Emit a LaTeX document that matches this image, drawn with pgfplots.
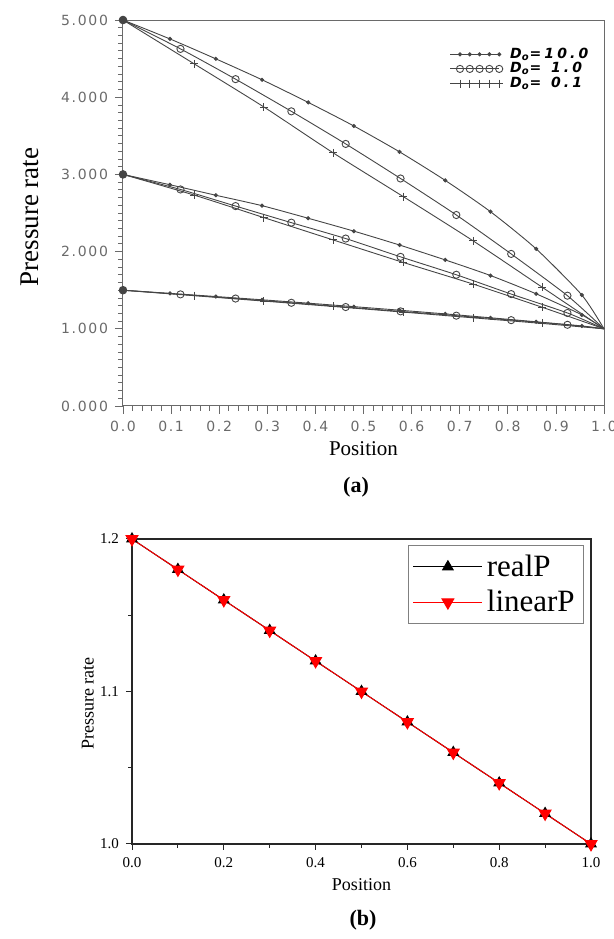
\documentclass[border=0pt]{standalone}
\usepackage{fontspec}
\setmainfont{Liberation Serif}
\newfontfamily\plotfont[LetterSpace=12]{DejaVu Sans}
\newfontfamily\legfont[LetterSpace=22]{DejaVu Sans}
\usepackage{pgfplots}
\pgfplotsset{compat=1.18}
\definecolor{plotgray}{HTML}{454545}
\definecolor{axgray}{HTML}{6A6A6A}
\begin{document}
\begin{tikzpicture}
\path[use as bounding box] (0,0) rectangle (307pt,469.5pt);
% ---------------- panel (a) ----------------
\begin{axis}[
  at={(61.5pt,266.5pt)}, anchor=south west, scale only axis,
  width=240.5pt, height=193pt,
  xmin=0, xmax=1, ymin=0, ymax=5,
  xtick={0,0.1,0.2,0.3,0.4,0.5,0.6,0.7,0.8,0.9,1.0}, minor x tick num=4,
  ytick={0,1,2,3,4,5}, minor y tick num=9,
  xtick pos=bottom, ytick pos=left, tick align=outside,
  major tick length=4pt, minor tick length=2.5pt,
  axis line style={axgray, line width=0.5pt},
  every tick/.style={axgray, line width=0.4pt},
  tick label style={font=\plotfont\fontsize{7}{8}\selectfont, text=axgray},
  /pgf/number format/assume math mode=true,
  xticklabel style={/pgf/number format/.cd, fixed, fixed zerofill, precision=1},
  yticklabel style={/pgf/number format/.cd, fixed, fixed zerofill, precision=3},
  xlabel={Position},
  xlabel style={at={(axis description cs:0.5,-0.111)}, anchor=center, font=\fontsize{10.5}{12}\selectfont},
  ylabel={Pressure rate},
  ylabel style={at={(axis description cs:-0.193,0.49)}, anchor=center, font=\fontsize{13.5}{15}\selectfont},
  legend style={at={(axis description cs:0.666,0.945)}, anchor=north west, draw=none, fill=none,
    font=\legfont\bfseries\itshape\fontsize{7}{8}\selectfont, row sep=-1.4pt,
    nodes={inner sep=1pt},
    /tikz/every odd column/.append style={column sep=2.5pt}},
  legend cell align=left,
  legend image code/.code={\draw[mark repeat=1,#1] plot coordinates {(0pt,0pt) (4.9pt,0pt) (9.8pt,0pt) (14.7pt,0pt) (19.6pt,0pt) (24.5pt,0pt)};},
  every axis plot/.append style={plotgray, line width=0.45pt, smooth, tension=0.4},
]
% P0 = 5
\addplot[mark=*, mark size=0.8pt, mark indices={2,3,4,5,6,7,8,9,10,11}] coordinates {(0,5) (0.0976,4.755) (0.193,4.497) (0.289,4.226) (0.385,3.933) (0.48,3.627) (0.575,3.292) (0.67,2.922) (0.764,2.517) (0.859,2.035) (0.954,1.437) (1,1)};
\addlegendentry{D\textsubscript{o}=10.0}
\addplot[mark=o, mark size=1.8pt, mark indices={2,3,4,5,6,7,8,9}] coordinates {(0,5) (0.1195,4.626) (0.234,4.234) (0.35,3.817) (0.463,3.395) (0.577,2.947) (0.693,2.474) (0.807,1.97) (0.924,1.429) (1,1)};
\addlegendentry{D\textsubscript{o}=\phantom{1}1.0}
\addplot[mark=+, mark size=2pt, mark indices={2,3,4,5,6,7}] coordinates {(0,5) (0.148,4.432) (0.293,3.873) (0.437,3.279) (0.583,2.711) (0.728,2.139) (0.872,1.536) (1,1)};
\addlegendentry{D\textsubscript{o}=\phantom{1}0.1}
% P0 = 3
\addplot[forget plot, mark=*, mark size=0.8pt, mark indices={2,3,4,5,6,7,8,9,10,11}] coordinates {(0,3) (0.0976,2.866) (0.193,2.73) (0.289,2.595) (0.385,2.432) (0.48,2.265) (0.575,2.085) (0.67,1.892) (0.764,1.69) (0.859,1.453) (0.954,1.18) (1,1)};
\addplot[forget plot, mark=o, mark size=1.8pt, mark indices={2,3,4,5,6,7,8,9}] coordinates {(0,3) (0.1195,2.805) (0.234,2.59) (0.35,2.375) (0.463,2.169) (0.577,1.932) (0.693,1.70) (0.807,1.45) (0.924,1.205) (1,1)};
\addplot[forget plot, mark=+, mark size=2pt, mark indices={2,3,4,5,6,7}] coordinates {(0,3) (0.148,2.732) (0.293,2.44) (0.437,2.151) (0.583,1.859) (0.728,1.579) (0.872,1.278) (1,1)};
% P0 = 1.5
\addplot[forget plot, mark=*, mark size=0.8pt, mark indices={2,3,4,5,6,7,8,9,10,11}] coordinates {(0,1.5) (0.0976,1.459) (0.193,1.418) (0.289,1.376) (0.385,1.332) (0.48,1.287) (0.575,1.241) (0.67,1.193) (0.764,1.143) (0.859,1.091) (0.954,1.037) (1,1)};
\addplot[forget plot, mark=o, mark size=1.8pt, mark indices={2,3,4,5,6,7,8,9}] coordinates {(0,1.5) (0.1195,1.446) (0.234,1.392) (0.35,1.337) (0.463,1.282) (0.577,1.226) (0.693,1.17) (0.807,1.112) (0.924,1.052) (1,1)};
\addplot[forget plot, mark=+, mark size=2pt, mark indices={2,3,4,5,6,7}] coordinates {(0,1.5) (0.148,1.429) (0.293,1.359) (0.437,1.289) (0.583,1.216) (0.728,1.142) (0.872,1.069) (1,1)};
% common start points
\addplot[forget plot, only marks, mark=*, mark size=1.9pt, fill=plotgray] coordinates {(0,5) (0,3) (0,1.5)};
\end{axis}
\node[font=\bfseries\fontsize{11}{12}\selectfont] at (178pt,226pt) {(a)};
% ---------------- panel (b) ----------------
\begin{axis}[
  at={(66pt,47.5pt)}, anchor=south west, scale only axis,
  width=229.5pt, height=152.5pt,
  xmin=0, xmax=1, ymin=1, ymax=1.2,
  xtick={0,0.2,0.4,0.6,0.8,1.0}, minor x tick num=1,
  ytick={1,1.1,1.2}, minor y tick num=1,
  xtick pos=bottom, ytick pos=left, tick align=outside,
  major tick length=3pt, minor tick length=1.8pt,
  axis line style={black!85, line width=0.6pt},
  every tick/.style={black!85, line width=0.5pt},
  tick label style={font=\fontsize{7.5}{8}\selectfont},
  /pgf/number format/assume math mode=true,
  xticklabel style={/pgf/number format/.cd, fixed, fixed zerofill, precision=1},
  yticklabel style={/pgf/number format/.cd, fixed, fixed zerofill, precision=1},
  xlabel={Position},
  xlabel style={at={(axis description cs:0.5,-0.134)}, anchor=center, font=\fontsize{9}{10}\selectfont},
  ylabel={Pressure rate},
  ylabel style={at={(axis description cs:-0.096,0.46)}, anchor=center, font=\fontsize{9}{10}\selectfont},
  legend style={at={(axis description cs:0.985,0.98)}, anchor=north east, draw=gray, fill=white,
    font=\fontsize{15.5}{17}\selectfont, row sep=1.5pt, inner sep=2.5pt},
  legend cell align=left,
  legend image code/.code={\draw[mark repeat=2,mark phase=2,#1] plot coordinates {(0pt,0pt) (17.25pt,0pt) (34.5pt,0pt)};},
]
\addplot[black, line width=0.5pt, mark=triangle*, mark size=3pt, mark options={fill=black}] coordinates {(0,1.2) (0.1,1.18) (0.2,1.16) (0.3,1.14) (0.4,1.12) (0.5,1.1) (0.6,1.08) (0.7,1.06) (0.8,1.04) (0.9,1.02) (1.0,1.0)};
\addlegendentry{realP}
\addplot[red, line width=0.5pt, mark=triangle*, mark size=3.4pt, mark options={fill=red, rotate=180}] coordinates {(0,1.2) (0.1,1.18) (0.2,1.16) (0.3,1.14) (0.4,1.12) (0.5,1.1) (0.6,1.08) (0.7,1.06) (0.8,1.04) (0.9,1.02) (1.0,1.0)};
\addlegendentry{linearP}
\end{axis}
\node[font=\bfseries\fontsize{11}{12}\selectfont] at (181.5pt,9.5pt) {(b)};
\end{tikzpicture}
\end{document}
